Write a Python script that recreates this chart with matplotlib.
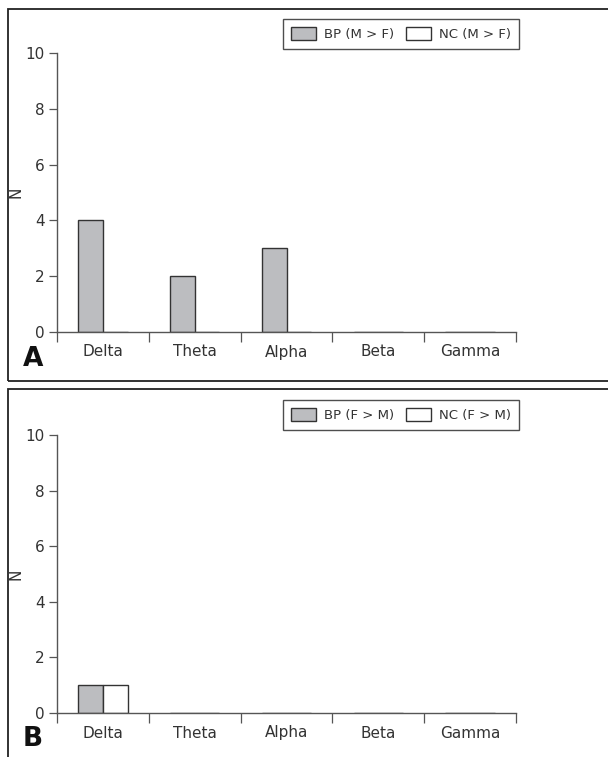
import numpy as np
import matplotlib
matplotlib.use('Agg')
import matplotlib.pyplot as plt
from matplotlib.patches import Rectangle
from matplotlib.ticker import FixedLocator, NullFormatter

categories = ['Delta', 'Theta', 'Alpha', 'Beta', 'Gamma']
bp_m_gt_f = [4, 2, 3, 0, 0]
nc_m_gt_f = [0, 0, 0, 0, 0]
bp_f_gt_m = [1, 0, 0, 0, 0]
nc_f_gt_m = [1, 0, 0, 0, 0]

panels = [
    ('A', bp_m_gt_f, nc_m_gt_f, 'BP (M > F)', 'NC (M > F)'),
    ('B', bp_f_gt_m, nc_f_gt_m, 'BP (F > M)', 'NC (F > M)'),
]

W, H = 608, 757
plt.rcParams['font.family'] = 'DejaVu Sans'
text_color = '#333333'
fig = plt.figure(figsize=(W / 100, H / 100), dpi=100)

# panel frames (pixel coords: left, top, bottom) and letter baseline
frames = [(8, 9, 381, 366), (8, 389, 760, 746)]
# axes placement in pixels: left, right, y of 0, y of 10
axes_px = [(57, 516, 332, 53), (57, 516, 713, 435)]
legend_px = [(519, 19), (519, 400)]

bar_w = 0.27
x = np.arange(len(categories)) + 0.5

for (letter, bp, nc, lab_bp, lab_nc), fr, ap, lp in zip(panels, frames, axes_px, legend_px):
    l, t, b, base = fr
    fig.patches.append(Rectangle((l / W, 1 - b / H), 1.2, (b - t) / H, transform=fig.transFigure,
                                 fill=False, edgecolor='#222222', linewidth=1.3))
    x0, x1, yb, yt = ap
    ax = fig.add_axes([x0 / W, 1 - yb / H, (x1 - x0) / W, (yb - yt) / H])
    h1 = ax.bar(x - bar_w / 2, bp, bar_w, color='#bcbdc0', edgecolor='#333333', linewidth=1.0, label=lab_bp)
    h2 = ax.bar(x + bar_w / 2, nc, bar_w, color='white', edgecolor='#333333', linewidth=1.0, label=lab_nc)
    ax.set_xlim(0, len(categories))
    ax.set_ylim(0, 10)
    ax.set_yticks([0, 2, 4, 6, 8, 10])
    ax.xaxis.set_major_locator(FixedLocator(np.arange(len(categories) + 1)))
    ax.xaxis.set_major_formatter(NullFormatter())
    ax.set_xticks(x, minor=True)
    ax.set_xticklabels(categories, minor=True)
    ax.tick_params(axis='x', which='minor', length=0, pad=9, labelsize=11, labelcolor=text_color)
    ax.tick_params(axis='x', which='major', length=7, width=0.9, color='#555555')
    ax.tick_params(axis='y', length=6, width=0.9, color='#555555', labelsize=11, labelcolor=text_color, pad=3)
    for s in ['top', 'right']:
        ax.spines[s].set_visible(False)
    for s in ['left', 'bottom']:
        ax.spines[s].set_color('#555555')
        ax.spines[s].set_linewidth(1.0)
    ax.set_ylabel('N', fontsize=11, color=text_color)
    ax.yaxis.set_label_coords((24 - x0) / (x1 - x0), 0.5)
    ax.patch.set_visible(False)

    lx, ly = lp
    fig.legend(handles=[h1, h2], labels=[lab_bp, lab_nc], loc='upper right',
               bbox_to_anchor=(lx / W, 1 - ly / H), ncol=2, frameon=True, fancybox=False,
               edgecolor='#222222', fontsize=9.5, handlelength=1.9, handleheight=1.2,
               columnspacing=0.9, handletextpad=0.6, borderpad=0.6, borderaxespad=0,
               labelcolor=text_color).get_frame().set_linewidth(1.0)

    fig.text(23 / W, 1 - base / H, letter, fontsize=19, fontweight='bold', color='#111111',
             ha='left', va='baseline')

fig.savefig('out.png', dpi=100)
